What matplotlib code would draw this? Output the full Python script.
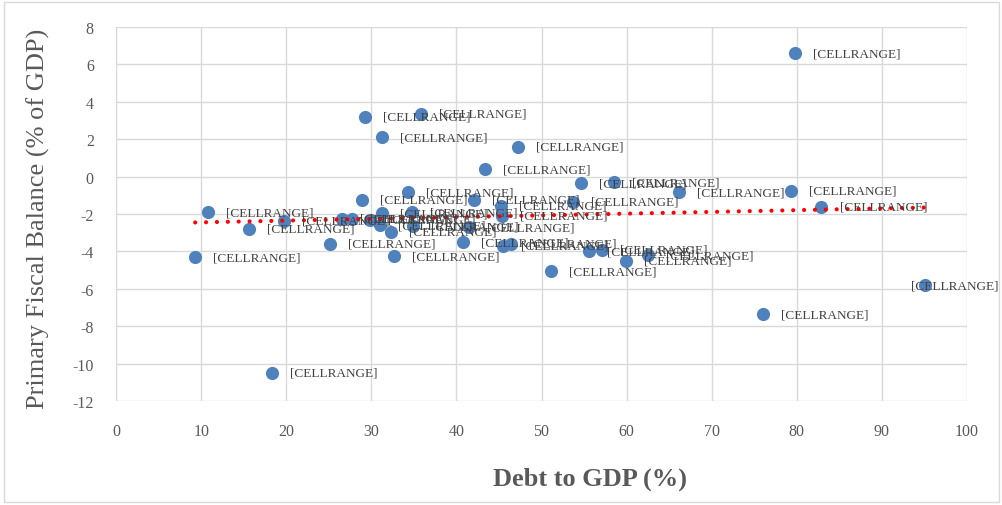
import numpy as np
import matplotlib
matplotlib.use("Agg")
import matplotlib.pyplot as plt
from matplotlib.patches import Rectangle

plt.rcParams["axes.unicode_minus"] = False

# debt to GDP (%) and primary fiscal balance (% of GDP)
debt = [79.8, 35.8, 29.3, 31.3, 47.2, 43.4, 54.6, 58.5, 66.2, 79.3,
        82.9, 95.1, 76.0, 18.3, 9.3, 10.8, 15.6, 25.1, 28.9, 32.7,
        34.3, 42.1, 40.8, 51.1, 55.6, 57.1, 59.9, 62.5, 45.2, 19.7,
        26.5, 27.7, 31.2, 31.0, 32.3, 34.8, 41.5, 45.3, 45.5, 46.4,
        53.7, 29.8, 34.9]
balance = [6.6, 3.35, 3.2, 2.1, 1.6, 0.4, -0.35, -0.3, -0.83, -0.77,
           -1.6, -5.8, -7.35, -10.5, -4.3, -1.9, -2.8, -3.6, -1.25, -4.25,
           -0.83, -1.25, -3.5, -5.05, -4.0, -3.9, -4.5, -4.2, -1.55, -2.35,
           -2.25, -2.25, -1.95, -2.6, -2.95, -1.9, -2.7, -2.1, -3.7, -3.6,
           -1.35, -2.3, -2.65]
point_label = "[CELLRANGE]"

x_ticks = list(range(0, 101, 10))
y_ticks = list(range(-12, 9, 2))

fig = plt.figure(figsize=(10.03, 5.06), dpi=100)
fig.patches.append(Rectangle((0.004, 0.006), 0.992, 0.988, transform=fig.transFigure,
                             fill=False, edgecolor="#d9d9d9", linewidth=1))
ax = fig.add_axes([0.1157, 0.2055, 0.8484, 0.7392])

ax.scatter(debt, balance, s=90, color="#4f81bd", zorder=3, linewidths=0)

# linear trend line like Excel's
coef = np.polyfit(debt, balance, 1)
xs = np.array([min(debt), max(debt)])
ax.plot(xs, np.polyval(coef, xs), color="#ff0000", linewidth=3.0,
        linestyle=(0, (0.01, 2.6)), dash_capstyle="round", zorder=4)

texts = []
for x, y in zip(debt, balance):
    t = ax.annotate(point_label, (x, y), xytext=(13, 0), textcoords="offset points",
                    va="center", ha="left", fontsize=9.5, color="#404040",
                    family="Liberation Serif", zorder=5, annotation_clip=False)
    texts.append(t)

ax.set_xlim(0, 100)
ax.set_ylim(-12, 8)
ax.set_xticks(x_ticks)
ax.set_yticks(y_ticks)
ax.grid(True, color="#d9d9d9", linewidth=1)
ax.set_axisbelow(True)
for s in ax.spines.values():
    s.set_visible(False)
ax.tick_params(length=0, labelsize=11.5, labelcolor="#595959", pad=16)
for lab in ax.get_xticklabels() + ax.get_yticklabels():
    lab.set_family("Liberation Serif")

ax.set_xlabel("Debt to GDP (%)", fontsize=19, fontweight="bold", color="#595959",
              family="Liberation Serif")
ax.set_ylabel("Primary Fiscal Balance (% of GDP)", fontsize=19, color="#595959",
              family="Liberation Serif")
ax.xaxis.set_label_coords(0.557, -0.174)
ax.yaxis.set_label_coords(-0.078, 0.489)

# keep labels inside the chart area, like Excel does
fig.canvas.draw()
r = fig.canvas.get_renderer()
limit = fig.bbox.width - 4
for t in texts:
    bb = t.get_window_extent(r)
    if bb.x1 > limit:
        shift = (bb.x1 - limit) * 72.0 / fig.dpi
        t.set_position((13 - shift, 0))

fig.savefig("out.png", dpi=100)
